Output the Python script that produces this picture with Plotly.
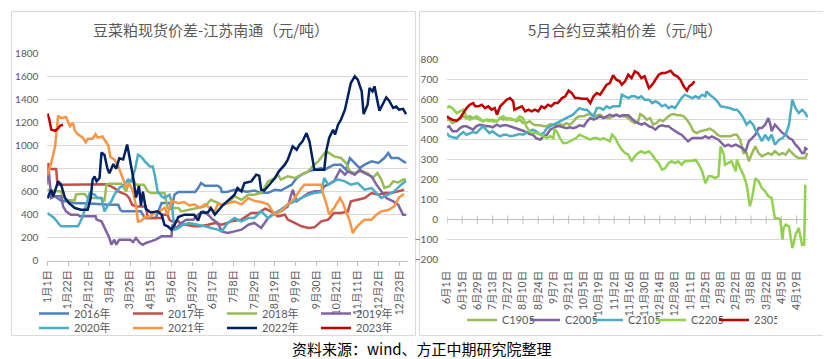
import plotly.graph_objects as go

W, H = 831, 359

# ---------------- data: left chart (days since 1月1日) ----------------
left_tick_days = [0, 21, 42, 63, 84, 105, 126, 147, 168, 189, 210, 231, 252, 273, 294, 315, 336, 357]
left_tick_labels = ["1月1日", "1月22日", "2月12日", "3月4日", "3月25日", "4月15日", "5月6日", "5月27日",
                    "6月17日", "7月8日", "7月29日", "8月19日", "9月9日", "9月30日", "10月21日", "11月11日",
                    "12月2日", "12月23日"]

days_2016 = [0,5,10,15,20,28,40,55,62,72,74,76,95,99,110,116,124,126,129,133,146,150,153,156,160,173,176,177,183,190,203,210,217,224,231,237,248,253,258,265,271,278,281,291,298,303,307,310,317,322,329,336,342,346,349,356,361,364]
vals_2016 = [545,575,545,516,516,500,500,490,487,487,443,429,429,371,371,501,501,443,574,597,597,597,632,675,652,652,632,597,600,617,600,610,590,590,617,610,661,719,748,777,791,806,791,835,835,791,893,864,806,835,864,850,893,936,893,893,870,849]

days_2017 = [0,1,2,9,10,11,14,60,68,72,80,83,86,90,100,102,116,117,122,124,126,133,136,141,149,155,163,170,177,187,197,207,214,221,227,234,241,244,251,258,265,271,278,285,291,298,305,308,315,322,329,336,342,349,356,362]
vals_2017 = [661,850,797,797,690,661,661,665,632,603,574,545,487,472,472,371,371,400,400,357,342,342,313,313,299,299,313,328,313,342,357,415,415,452,429,386,400,357,328,299,284,290,342,357,415,415,429,516,530,545,588,574,588,588,603,617]

days_2018 = [0,7,14,16,21,28,29,33,38,41,55,58,60,62,75,77,80,83,88,90,98,102,105,119,121,122,133,136,144,153,160,166,170,177,183,190,197,204,210,217,224,231,234,237,244,251,258,265,269,275,280,283,286,291,298,303,307,312,319,325,330,335,339,342,347,351,356,361,364]
vals_2018 = [617,603,603,545,525,525,574,580,580,545,545,516,661,670,670,647,603,690,690,661,661,603,588,588,516,458,458,429,443,458,472,530,516,487,500,560,530,574,574,588,690,719,748,705,733,719,748,777,820,864,922,951,936,907,893,849,777,762,777,762,719,762,705,632,647,690,680,705,705]

days_2019 = [0,1.5,4,7,14,16,19,24,31,33,49,50,55,60,63,65,68,70,73,84,87,90,94,97,100,105,110,116,126,127,131,136,141,148,153,158,163,168,173,177,183,190,197,204,210,217,224,231,237,244,249,253,258,265,271,278,281,285,291,297,302,305,312,317,322,329,334,339,344,351,356,361,364]
vals_2019 = [690,777,545,560,560,472,429,400,400,386,386,357,342,255,197,139,183,139,183,183,162,197,154,139,154,168,183,212,212,313,284,328,357,357,400,429,400,357,328,255,241,255,270,313,328,284,371,415,429,472,617,516,545,588,603,603,647,661,690,791,748,777,748,791,762,733,661,603,545,516,487,400,400]

days_2020 = [0,4,7,11,14,31,33,36,40,43,48,51,55,58,62,65,68,73,78,82,85,89,92,95,99,104,107,109,112,116,119,124,126,129,133,138,144,153,160,166,173,177,183,190,197,204,210,217,224,231,237,244,251,258,265,271,278,281,285,290,295,302,308,315,322,329,334,339,346,352,359,364]
vals_2020 = [415,386,371,328,299,299,328,386,501,588,574,545,545,429,487,516,574,632,661,705,690,791,922,907,864,820,820,748,603,560,545,574,516,270,284,313,328,313,299,284,270,255,328,371,342,371,371,429,371,415,444,487,516,545,574,588,597,719,661,690,705,690,661,675,617,632,588,545,574,603,661,695]

days_2021 = [0,4,8,11,14,19,23,26,28,31,36,39,41,46,49,51,56,58,62,64,68,72,75,80,84,87,90,92,95,99,104,109,114,119,122,126,133,139,144,149,155,160,166,170,173,177,183,190,197,204,210,217,224,231,234,237,244,251,258,261,265,271,278,280,283,286,291,297,300,303,307,310,313,317,322,329,334,339,346,352,357,362]
vals_2021 = [742,850,1000,1260,1240,1250,1170,1200,1130,1100,1070,1030,1060,1060,1100,1070,1080,1050,1000,900,880,820,750,640,660,600,480,340,345,380,380,420,430,460,400,520,500,510,480,490,460,490,450,430,490,490,500,515,490,545,520,510,490,400,415,430,487,545,632,660,660,660,660,574,500,400,460,545,500,430,342,240,284,320,357,357,400,429,440,473,551,580]

days_2022 = [0,4,6,9,11,14,18,22,28,34,41,44,46,48,50,53,55,58,61,63,67,70,73,77,81,83,87,90,93,95,97,100,105,112,116,119,122,126,129,133,139,149,153,156,163,166,170,177,183,190,193,197,200,207,212,215,217,220,224,231,235,241,244,249,253,256,259,263,266,270,271,278,281,283,286,290,292,295,298,302,303,305,308,312,315,319,321,325,327,330,332,335,337,341,344,347,351,354,357,361,364]
vals_2022 = [545,617,560,632,690,661,545,501,458,443,443,545,705,733,690,719,940,920,800,760,840,800,890,880,1010,920,730,550,650,480,600,450,420,430,400,310,300,270,310,380,400,400,350,420,420,458,400,472,516,574,632,603,675,690,748,740,617,610,647,719,777,835,878,994,965,1009,1038,1110,1038,864,791,791,791,951,1067,1139,1096,1183,1226,1313,1357,1429,1545,1603,1574,1473,1275,1357,1502,1473,1516,1386,1305,1371,1420,1390,1328,1340,1313,1320,1275]

days_2023 = [0,2,4,8,11,13,16]
vals_2023 = [1280,1230,1140,1130,1150,1175,1180]

# ---------------- data: right chart (days since 6月1日) ----------------
right_tick_days = [0,14,28,42,56,70,84,98,112,126,140,154,168,182,196,210,224,238,252,266,280,294,308,322]
right_tick_labels = ["6月1日","6月15日","6月29日","7月13日","7月27日","8月10日","8月24日","9月7日",
                     "9月21日","10月5日","10月19日","11月2日","11月16日","11月30日","12月14日","12月28日",
                     "1月11日","1月25日","2月8日","2月22日","3月8日","3月22日","4月5日","4月19日"]

days_c1905 = [0,2,5,9,12,15,18,21,24,27,30,33,36,39,42,46,49,52,55,58,61,64,67,70,73,76,79,82,86,89,92,95,98,101,104,107,110,113,116,119,122,126,129,132,135,138,141,144,147,150,153,156,159,162,
              164,167,170,173,176,178,181,184,187,190,193,196,199,202,206,209,212,215,218,221,224,227,230,233,236,239,242,246,249,252,255,258,261,264,267,270,273,276,278,281,284,287,290,293,296,299,302,306,309,312,315,318,321,324,327,330,332]
vals_c1905 = [500,500,483,492,508,517,508,517,508,508,500,492,500,500,492,492,508,500,508,500,500,492,500,483,483,492,478,472,472,467,467,478,475,472,478,472,483,475,488,508,517,517,525,528,517,522,525,512,508,508,522,525,517,517,
              517,508,492,483,492,528,517,500,508,475,483,500,492,508,525,528,522,522,517,500,475,442,433,442,445,450,455,442,425,417,417,417,417,425,425,400,333,333,292,333,367,333,317,325,333,325,342,325,333,325,350,333,317,308,308,308,333]

days_c2005 = [0,2,5,9,12,15,18,21,24,27,30,33,36,39,42,46,49,52,55,58,61,64,67,70,73,76,79,82,86,89,92,95,98,101,104,107,110,113,116,119,122,126,129,132,135,138,141,144,147,150,153,156,159,162,167,170,173,176,179,182,186,189,192,195,198,201,204,207,210,213,216,219,222,226,229,232,235,238,241,244,247,250,253,256,259,262,266,269,272,275,278,281,284,287,290,293,296,298,299,302,306,309,312,315,318,321,324,327,329,330,332]
vals_c2005 = [462,467,442,442,458,467,467,458,450,467,475,472,467,467,462,475,467,472,472,467,462,458,450,445,438,428,425,408,400,417,425,450,458,467,467,462,458,462,458,462,472,467,492,508,500,508,517,508,517,525,517,525,517,522,522,508,492,483,475,483,467,462,450,467,472,467,467,455,442,433,425,408,392,408,408,408,408,417,408,417,408,400,383,367,375,367,375,367,358,342,392,408,425,458,458,475,508,472,442,475,450,433,425,408,400,375,358,333,333,358,350]

days_c2105 = [0,2,5,9,12,15,18,21,24,27,30,33,36,39,42,46,49,52,55,58,61,64,67,70,73,76,79,82,86,89,92,95,98,101,104,107,110,113,116,119,122,126,129,132,135,138,141,144,147,150,153,156,159,161,164,167,170,173,176,179,182,186,189,192,195,198,201,204,207,210,213,216,219,222,226,229,232,235,238,239,242,246,249,252,256,261,264,267,270,273,276,279,282,284,287,290,293,296,299,302,306,309,312,315,318,321,324,327,330,332]
vals_c2105 = [433,417,412,408,425,438,425,433,438,433,450,467,450,433,442,425,417,425,425,417,420,425,428,425,433,442,450,442,425,433,458,467,475,483,492,500,508,517,525,542,558,550,550,533,517,558,558,550,567,558,567,567,567,625,617,608,617,617,608,617,600,600,583,592,583,567,575,558,567,558,583,608,625,617,608,617,608,625,617,642,625,608,592,567,562,558,550,550,533,508,475,492,475,450,425,392,425,400,425,375,400,408,425,475,600,558,533,550,533,512]

days_c2205 = [0,2,5,9,12,15,18,21,24,27,30,33,36,39,42,46,49,52,55,58,61,64,67,70,73,76,79,82,86,89,92,95,98,99,101,104,107,110,113,116,119,122,126,129,132,135,138,141,144,147,150,152,155,158,161,164,167,170,173,176,179,182,186,189,192,195,198,201,204,207,210,213,216,219,222,226,229,232,235,238,241,244,247,250,252,255,256,259,262,266,267,270,273,276,279,281,284,287,290,293,296,299,302,306,307,309,310,312,315,318,319,321,324,327,329,330]
vals_c2205 = [558,567,558,533,542,550,517,500,508,517,508,492,500,492,500,492,508,517,500,508,500,500,517,508,467,442,433,433,425,417,408,417,408,450,442,408,383,383,392,400,408,425,417,408,400,408,408,400,408,400,392,425,408,375,350,333,325,292,317,333,342,333,342,325,300,283,250,258,283,292,283,292,275,292,292,295,300,275,242,183,217,217,208,217,367,325,275,283,292,242,300,258,225,175,67,108,208,192,158,142,117,108,8,5,0,-100,-42,-25,-33,-142,-125,-75,-42,-125,-125,175]

days_2305 = [0,2,5,9,12,15,18,21,24,26,29,32,35,38,41,44,46,49,52,55,58,61,62,66,69,72,75,78,81,84,87,90,93,96,99,102,106,109,112,115,118,121,124,129,132,135,138,141,144,147,150,153,156,159,161,164,167,170,173,176,179,182,186,189,192,195,198,201,206,209,212,215,218,219,221,223,226,228]
vals_2305 = [517,508,500,495,508,533,558,575,583,567,567,575,558,567,550,558,525,567,583,600,608,592,550,558,567,542,550,542,550,542,567,558,575,567,583,583,608,617,645,633,608,608,605,605,583,617,633,625,650,675,683,722,700,692,675,692,725,708,742,733,708,717,658,675,700,725,733,733,745,725,717,700,667,658,645,667,678,692]

left_series = [
    ("2016年", days_2016, vals_2016, "#4F81BD", "legend"),
    ("2017年", days_2017, vals_2017, "#C0504D", "legend"),
    ("2018年", days_2018, vals_2018, "#9BBB59", "legend"),
    ("2019年", days_2019, vals_2019, "#8064A2", "legend"),
    ("2020年", days_2020, vals_2020, "#4BACC6", "legend2"),
    ("2021年", days_2021, vals_2021, "#F79646", "legend2"),
    ("2022年", days_2022, vals_2022, "#002060", "legend2"),
    ("2023年", days_2023, vals_2023, "#C00000", "legend2"),
]
right_series = [
    ("C1905", days_c1905, vals_c1905, "#9BBB59"),
    ("C2005", days_c2005, vals_c2005, "#8064A2"),
    ("C2105", days_c2105, vals_c2105, "#4BACC6"),
    ("C2205", days_c2205, vals_c2205, "#92D050"),
    ("2305", days_2305, vals_2305, "#C00000"),
]

TXT = "#595959"
GRID = "#D9D9D9"
FONT = "Lato, 'Noto Sans CJK SC', sans-serif"
CJK = "'Noto Sans CJK SC', sans-serif"

def px(x):
    return x / W

def py(y):
    return 1 - y / H

fig = go.Figure()

for name, d, v, c, lg in left_series:
    fig.add_trace(go.Scatter(x=d, y=v, name=name, mode="lines", legend=lg,
                             line=dict(color=c, width=2.5), xaxis="x", yaxis="y",
                             hoverinfo="skip"))

# small tick marks on the zero line of the right chart
fig.add_trace(go.Scatter(x=right_tick_days, y=[0] * len(right_tick_days), mode="markers",
                         marker=dict(symbol="line-ns-open", size=6, color="#BFBFBF",
                                     line=dict(color="#BFBFBF", width=1)),
                         xaxis="x2", yaxis="y2", showlegend=False, hoverinfo="skip"))

for name, d, v, c in right_series:
    fig.add_trace(go.Scatter(x=d, y=v, name=name, mode="lines", legend="legend3",
                             line=dict(color=c, width=2.5), xaxis="x2", yaxis="y2",
                             hoverinfo="skip"))

tickfont = dict(family=FONT, size=10.5, color=TXT)
legfont = dict(family=FONT, size=11, color=TXT)

fig.update_layout(
    width=W, height=H,
    margin=dict(l=0, r=0, t=0, b=0),
    paper_bgcolor="white", plot_bgcolor="white",
    xaxis=dict(domain=[px(39.3), px(400)], range=[0, 366], tickmode="array",
               tickvals=left_tick_days, ticktext=left_tick_labels, tickangle=-90,
               tickfont=tickfont, showgrid=False, zeroline=False, showline=True,
               linecolor="#BFBFBF", linewidth=1, ticks="outside", ticklen=4,
               tickcolor="#BFBFBF", automargin=False, fixedrange=True),
    yaxis=dict(domain=[py(252.7), py(45.7)], range=[0, 1800], dtick=200, tick0=0,
               tickfont=dict(family=FONT, size=10, color=TXT), gridcolor=GRID, gridwidth=1,
               zeroline=False, showline=False, ticks="", ticklabelstandoff=8,
               automargin=False, fixedrange=True),
    xaxis2=dict(domain=[px(439), px(800)], range=[0, 332.5], anchor="y2", tickmode="array",
                tickvals=right_tick_days, ticktext=right_tick_labels, tickangle=-90,
                tickfont=tickfont, showgrid=False, zeroline=False, showline=False,
                ticks="", ticklabelstandoff=8, automargin=False, fixedrange=True),
    yaxis2=dict(domain=[py(251.7), py(51.7)], range=[-200, 800], dtick=100, tick0=0,
                anchor="x2", tickfont=dict(family=FONT, size=10, color=TXT), gridcolor=GRID,
                gridwidth=1, zeroline=True, zerolinecolor="#BFBFBF", zerolinewidth=1,
                showline=False, ticks="", ticklabelstandoff=8, automargin=False, fixedrange=True),
    legend=dict(orientation="h", x=px(26), xanchor="left", y=py(305.5), yanchor="middle",
                entrywidth=49, font=legfont, bgcolor="rgba(0,0,0,0)", borderwidth=0,
                traceorder="normal"),
    legend2=dict(orientation="h", x=px(26), xanchor="left", y=py(320), yanchor="middle",
                 entrywidth=49, font=legfont, bgcolor="rgba(0,0,0,0)", borderwidth=0,
                 traceorder="normal"),
    legend3=dict(orientation="h", x=px(454), xanchor="left", y=py(312), yanchor="middle",
                 entrywidth=18, font=legfont, bgcolor="rgba(0,0,0,0)", borderwidth=0,
                 traceorder="normal"),
    showlegend=True,
    shapes=[
        dict(type="rect", xref="paper", yref="paper", x0=px(3.5), x1=px(407.5),
             y0=py(327.5), y1=py(3.5), line=dict(color="#D9D9D9", width=1), layer="below"),
        dict(type="rect", xref="paper", yref="paper", x0=px(411.5), x1=px(823.5),
             y0=py(327.5), y1=py(3.5), line=dict(color="#D9D9D9", width=1), layer="below"),
    ],
    annotations=[
        dict(text="豆菜粕现货价差-江苏南通（元/吨）", xref="paper", yref="paper",
             x=px(203), y=py(22), xanchor="center", yanchor="middle", showarrow=False,
             font=dict(family=CJK, size=15, color=TXT)),
        dict(text="5月合约豆菜粕价差（元/吨）", xref="paper", yref="paper",
             x=px(617), y=py(22), xanchor="center", yanchor="middle", showarrow=False,
             font=dict(family=CJK, size=15, color=TXT)),
        dict(text="资料来源：wind、方正中期研究院整理", xref="paper", yref="paper",
             x=px(414), y=py(339.5), xanchor="center", yanchor="middle", showarrow=False,
             height=18, valign="middle",
             font=dict(family=CJK, size=15, color="#000000")),
    ],
)

fig.write_html("out.html")
